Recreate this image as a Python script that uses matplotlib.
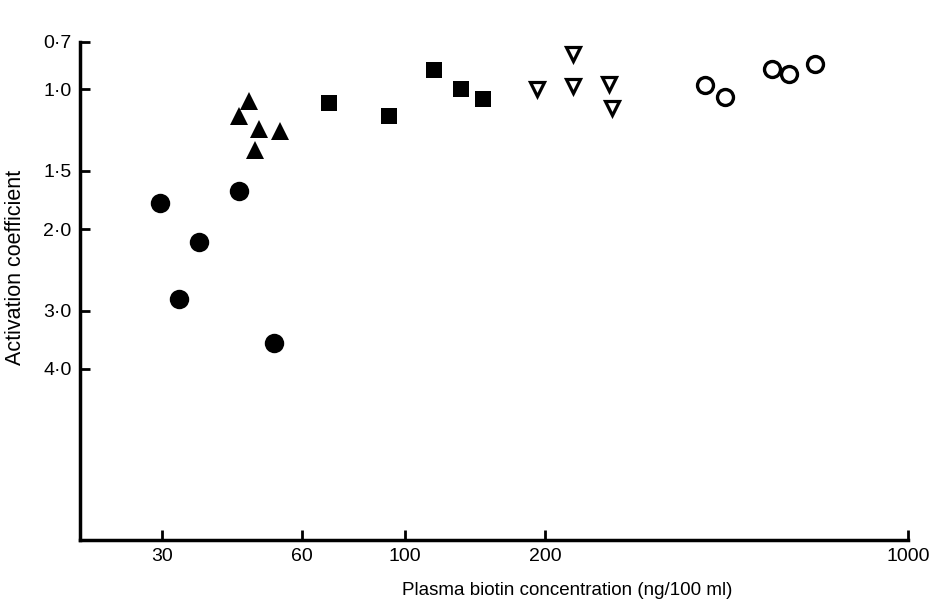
import matplotlib
matplotlib.use("Agg")
import matplotlib.pyplot as plt
from matplotlib.ticker import FixedLocator, FixedFormatter, NullLocator

plt.rcParams['font.family'] = ['Liberation Sans', 'DejaVu Sans']

# data (x: ng/100 ml, y: activation coefficient)
circle_x = [29.7, 32.6, 36.0, 43.9, 52.2]
circle_y = [1.76, 2.83, 2.13, 1.66, 3.52]

tri_up_x = [43.9, 46.2, 47.5, 48.5, 53.8]
tri_up_y = [1.14, 1.06, 1.35, 1.22, 1.23]

square_x = [68.6, 92.3, 115.4, 131.9, 147.0]
square_y = [1.07, 1.14, 0.91, 1.00, 1.05]

tri_down_x = [192.0, 229.6, 229.6, 274.5, 278.6]
tri_down_y = [1.00, 0.84, 0.985, 0.976, 1.10]

open_x = [441.6, 487.5, 615.0, 669.0, 761.0]
open_y = [0.98, 1.04, 0.906, 0.928, 0.884]

# axis ends as drawn in the original (end ticks carry the printed labels)
x_min, x_max = 20.0, 1206.0
y_top, y_bottom = 0.792, 9.33

xtick_vals = [30, 60, 100, 200, x_max]
xtick_labels = ['30', '60', '100', '200', '1000']
ytick_vals = [y_top, 1.0, 1.5, 2.0, 3.0, 4.0]
ytick_labels = ['0\u00b77', '1\u00b70', '1\u00b75', '2\u00b70', '3\u00b70', '4\u00b70']

fig = plt.figure(figsize=(9.37, 6.06), dpi=100)
ax = fig.add_axes([80/937, 66/606, 828/937, 498/606])

ax.plot(circle_x, circle_y, 'o', color='black', ms=14, mew=0)
ax.plot(tri_up_x, tri_up_y, '^', color='black', ms=13, mew=0)
ax.plot(square_x, square_y, 's', color='black', ms=12, mew=0)
ax.plot(tri_down_x, tri_down_y, 'v', mfc='white', mec='black', ms=10, mew=2.3)
ax.plot(open_x, open_y, 'o', mfc='white', mec='black', ms=11.5, mew=2.4)

ax.set_xscale('log')
ax.set_yscale('log')
ax.set_xlim(x_min, x_max)
ax.set_ylim(y_bottom, y_top)

ax.xaxis.set_major_locator(FixedLocator(xtick_vals))
ax.xaxis.set_major_formatter(FixedFormatter(xtick_labels))
ax.yaxis.set_major_locator(FixedLocator(ytick_vals))
ax.yaxis.set_major_formatter(FixedFormatter(ytick_labels))
ax.xaxis.set_minor_locator(NullLocator())
ax.yaxis.set_minor_locator(NullLocator())

for side in ['top', 'right']:
    ax.spines[side].set_visible(False)
for side in ['left', 'bottom']:
    ax.spines[side].set_linewidth(2.5)

ax.tick_params(direction='in', length=7, width=2, labelsize=14, pad=6)

ax.set_xlabel('Plasma biotin concentration (ng/100 ml)', fontsize=13.5)
ax.xaxis.set_label_coords(0.588, -0.085)
ax.set_ylabel('Activation coefficient', fontsize=15.5)
ax.yaxis.set_label_coords(-0.065, 0.548)

fig.savefig('out.png', dpi=100)
